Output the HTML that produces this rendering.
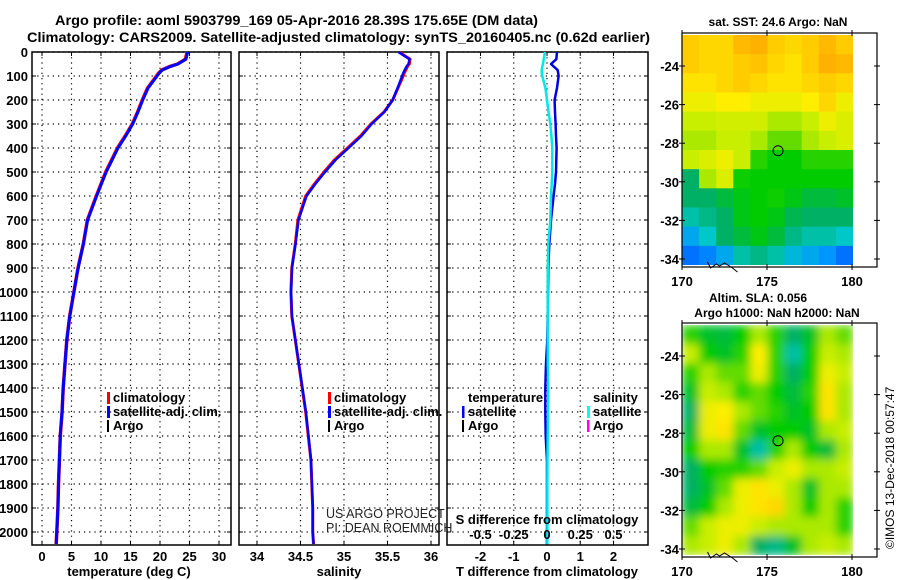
<!DOCTYPE html>
<html><head><meta charset="utf-8"><style>
body{margin:0;background:#fff}
svg{display:block;font-family:"Liberation Sans",sans-serif}
.b{font-weight:bold;font-size:13px}
</style></head><body>
<svg id="c" width="900" height="580" viewBox="0 0 900 580"></svg>
<script>
const depths=[0,30,50,60,75,90,100,150,200,250,300,350,400,450,500,550,600,700,800,900,1000,1100,1200,1300,1400,1500,1600,1700,1800,1900,2000,2050];
const tempClim=[24.6,24.3,23.0,21.7,20.3,19.7,19.4,17.9,17.0,16.2,15.3,14.1,12.8,11.8,10.8,10.0,9.2,7.7,7.0,6.1,5.4,4.7,4.2,3.9,3.6,3.4,3.1,2.95,2.8,2.7,2.5,2.4];
const tDiff=[0.3,0.28,0.12,0.2,0.32,0.34,0.35,0.3,0.23,0.24,0.26,0.27,0.29,0.28,0.27,0.24,0.2,0.12,0.07,0.04,0.03,0.02,0.01,-0.03,-0.05,-0.05,-0.04,0,0,0,0,0];
const salClim=[35.63,35.76,35.75,35.73,35.71,35.69,35.68,35.62,35.56,35.46,35.31,35.19,35.04,34.89,34.77,34.66,34.56,34.47,34.44,34.40,34.39,34.40,34.44,34.48,34.52,34.56,34.59,34.62,34.63,34.64,34.64,34.65];
const sDiff=[-0.015,-0.025,-0.03,-0.035,-0.04,-0.04,-0.035,-0.012,0,0.012,0.025,0.033,0.04,0.04,0.04,0.035,0.03,0.025,0.01,0.006,0.005,0.005,0.005,0.006,0.01,0.008,0.005,0.004,0.003,0.003,0.003,0.003];
const tTicks=[0,5,10,15,20,25,30];
const sTicks=[34,34.5,35,35.5,36];
const sTickLabels=["34","34.5","35","35.5","36"];
const dTicks=[0,100,200,300,400,500,600,700,800,900,1000,1100,1200,1300,1400,1500,1600,1700,1800,1900,2000];
const tdTicks=[-2,-1,0,1,2];
const sdTicks=[-0.5,-0.25,0,0.25,0.5];
const sdTickLabels=["-0.5","-0.25","0","0.25","0.5"];
const sstGrid=[
[0.74,0.72,0.72,0.76,0.77,0.74,0.72,0.74,0.76,0.74],
[0.74,0.72,0.72,0.74,0.75,0.72,0.70,0.74,0.77,0.76],
[0.70,0.70,0.72,0.74,0.72,0.70,0.70,0.72,0.74,0.72],
[0.66,0.66,0.68,0.68,0.66,0.66,0.66,0.68,0.72,0.66],
[0.62,0.62,0.63,0.63,0.63,0.60,0.60,0.62,0.66,0.64],
[0.60,0.60,0.62,0.62,0.60,0.55,0.55,0.60,0.62,0.64],
[0.62,0.64,0.66,0.62,0.50,0.47,0.47,0.50,0.50,0.50],
[0.42,0.60,0.64,0.48,0.47,0.47,0.47,0.47,0.47,0.47],
[0.42,0.42,0.44,0.46,0.47,0.48,0.46,0.44,0.44,0.45],
[0.38,0.40,0.42,0.46,0.47,0.46,0.43,0.42,0.42,0.42],
[0.32,0.36,0.42,0.44,0.46,0.44,0.40,0.38,0.38,0.36],
[0.26,0.28,0.32,0.38,0.40,0.38,0.34,0.32,0.30,0.26]];
const slaGrid=[
[0.50,0.45,0.44,0.47,0.60,0.50,0.42,0.45,0.60,0.55],
[0.62,0.47,0.45,0.50,0.68,0.50,0.38,0.47,0.62,0.60],
[0.50,0.60,0.55,0.55,0.66,0.50,0.42,0.47,0.66,0.62],
[0.45,0.62,0.60,0.50,0.55,0.47,0.44,0.50,0.70,0.60],
[0.42,0.66,0.68,0.60,0.55,0.50,0.45,0.47,0.70,0.60],
[0.44,0.66,0.70,0.55,0.45,0.47,0.47,0.45,0.60,0.62],
[0.47,0.60,0.60,0.45,0.38,0.50,0.60,0.47,0.44,0.60],
[0.42,0.47,0.50,0.50,0.55,0.62,0.66,0.60,0.60,0.62],
[0.42,0.45,0.55,0.66,0.70,0.66,0.60,0.45,0.60,0.60],
[0.44,0.47,0.60,0.66,0.70,0.72,0.60,0.47,0.60,0.50],
[0.55,0.62,0.66,0.66,0.62,0.60,0.60,0.60,0.60,0.50],
[0.60,0.62,0.66,0.60,0.42,0.40,0.45,0.60,0.62,0.60]];
const mapLatTicks=[-24,-26,-28,-30,-32,-34];
const mapLonTicks=[170,175,180];
const floatLon=175.65, floatLat=-28.39;

const NS="http://www.w3.org/2000/svg";
const svg=document.getElementById('c');
function el(t,a,p){const e=document.createElementNS(NS,t);for(const k in a)e.setAttribute(k,a[k]);(p||svg).appendChild(e);return e;}
function txt(s,a,p){const e=el('text',a,p);e.textContent=s;return e;}

const yTop=52,yBot=545;
const yD=d=>yTop+d*0.24;
const P1={x0:32,x1:231},P2={x0:239,x1:439},P3={x0:447,x1:648};
const xT=v=>42+v*5.9;
const xS=v=>257+(v-34)*87;
const xTD=v=>547+v*33.25;
const xSD=v=>547+v*4*33.25;

const t1=txt("Argo profile: aoml 5903799_169 05-Apr-2016 28.39S 175.65E (DM data)",{x:55,y:25,'font-size':14,'font-weight':'bold',textLength:483,lengthAdjust:'spacingAndGlyphs'});

const t2=txt("Climatology: CARS2009. Satellite-adjusted climatology: synTS_20160405.nc (0.62d earlier)",{x:27,y:42,'font-size':14,'font-weight':'bold',textLength:623,lengthAdjust:'spacingAndGlyphs'});


function panel(P,name,xticks,xf,labels){
  const g=el('g',{});
  
  
  dTicks.forEach(d=>{el('line',{x1:P.x0,x2:P.x1,y1:yD(d),y2:yD(d),stroke:'#000','stroke-width':1.2,'stroke-dasharray':'1.2 4'},g);
    el('line',{x1:P.x0,x2:P.x0+4,y1:yD(d),y2:yD(d),stroke:'#000'},g);el('line',{x1:P.x1-4,x2:P.x1,y1:yD(d),y2:yD(d),stroke:'#000'},g);});
  xticks.forEach((v,i)=>{const x=xf(v);
    el('line',{x1:x,x2:x,y1:yTop,y2:yBot,stroke:'#000','stroke-width':1.2,'stroke-dasharray':'1.2 4'},g);
    el('line',{x1:x,x2:x,y1:yBot-4,y2:yBot,stroke:'#000'},g);el('line',{x1:x,x2:x,y1:yTop,y2:yTop+4,stroke:'#000'},g);
    const lb=txt(labels?labels[i]:String(v),{x:x,y:561,'text-anchor':'middle',class:'b'},g);
    });
  el('rect',{x:P.x0,y:yTop,width:P.x1-P.x0,height:yBot-yTop,fill:'none',stroke:'#000','stroke-width':1.5},g);
  return g;
}
const g1=panel(P1,'temperature-panel',tTicks,xT);
const g2=panel(P2,'salinity-panel',sTicks,xS,sTickLabels);
const g3=panel(P3,'difference-panel',tdTicks,xTD);
dTicks.forEach(d=>{const lb=txt(String(d),{x:28,y:yD(d)+5,'text-anchor':'end',class:'b'});
  });
sdTicks.forEach((v,i)=>{const lb=txt(sdTickLabels[i],{x:xSD(v),y:539,'text-anchor':'middle',class:'b'});
  });
const sdt=txt("S difference from climatology",{x:547,y:524,'text-anchor':'middle',class:'b'});

[["temperature (deg C)",129,'temperature-axis-title'],["salinity",339,'salinity-axis-title'],["T difference from climatology",547,'t-diff-axis-title']].forEach(a=>{
  const lb=txt(a[0],{x:a[1],y:576,'text-anchor':'middle',class:'b'});
  });

function profile(vals,xf,color,w,g,name){
  const pts=vals.map((v,i)=>xf(v).toFixed(1)+','+yD(depths[i]).toFixed(1)).join(' ');
  const p=el('polyline',{points:pts,fill:'none',stroke:color,'stroke-width':w,'stroke-linejoin':'round'},g);
  
}
const tempSat=tempClim.map((v,i)=>v+tDiff[i]*0.3);
const salSat=salClim.map((v,i)=>v+sDiff[i]*0.3);
profile(tempClim,xT,'#f00',3.5,g1,'temperature-climatology-line');
profile(tempSat,xT,'#00f',3,g1,'temperature-satellite-line');
profile(salClim,xS,'#f00',3,g2,'salinity-climatology-line');
profile(salSat,xS,'#00f',2.5,g2,'salinity-satellite-line');
profile(tDiff,xTD,'#0000e0',2.5,g3,'t-difference-line');
profile(sDiff,xSD,'#00e8e8',2.5,g3,'s-difference-line');

function legend(x,y,items,name){
  const g=el('g',{});
  items.forEach((it,i)=>{const yy=y+i*14;
    if(it[1])el('rect',{x:x,y:yy-10,width:it[2]||2.5,height:12,fill:it[1]},g);
    txt(it[0],{x:x+6,y:yy,class:'b'},g);});
}
legend(107,402,[["climatology",'#f00',3],["satellite-adj. clim.",'#00f',3],["Argo",'#000',2]],'temperature-legend');
legend(328,402,[["climatology",'#f00',3],["satellite-adj. clim.",'#00f',3],["Argo",'#000',2]],'salinity-legend');
legend(462,402,[["temperature",null],["satellite",'#00f',2.5],["Argo",'#000',2]],'difference-temperature-legend');
legend(587,402,[["salinity",null],["satellite",'#00ffff',3],["Argo",'#ff00ff',2.5]],'difference-salinity-legend');
const cr=el('g',{});
txt("US ARGO PROJECT",{x:326,y:518,'font-size':12.5,fill:'#222'},cr);
txt("PI: DEAN ROEMMICH",{x:326,y:532,'font-size':12.5,fill:'#222'},cr);

const stops=[[0.2,[0,60,255]],[0.3,[0,150,255]],[0.36,[0,200,200]],[0.42,[0,176,100]],[0.47,[0,204,0]],[0.55,[100,220,0]],[0.62,[200,238,0]],[0.68,[255,238,0]],[0.74,[255,204,0]],[0.80,[255,150,0]]];
function cmap(v){if(v<=stops[0][0])return 'rgb('+stops[0][1]+')';
  for(let i=1;i<stops.length;i++){if(v<=stops[i][0]){const a=stops[i-1],b=stops[i],f=(v-a[0])/(b[0]-a[0]);
    return 'rgb('+a[1].map((c,k)=>Math.round(c+(b[1][k]-c)*f)).join(',')+')';}}
  return 'rgb('+stops[stops.length-1][1]+')';}

const defs=el('defs',{});
const flt=el('filter',{id:'bl',x:0,y:0,width:1,height:1},defs);el('feGaussianBlur',{stdDeviation:4.5,edgeMode:'duplicate'},flt);

function map(top,grid,name,blur,titles){
  const fx0=682,fx1=877,fy0=top,fy1=top+234;
  const lonX=l=>682+(l-170)*17;
  const latY=l=>top+33+(-24-l)*19.3;
  const g=el('g',{});
  const cp=el('clipPath',{id:'cp'+top},defs);el('rect',{x:682,y:top+2,width:171,height:230},cp);
  const ig=el('g',{'clip-path':'url(#cp'+top+')'},g);
  const ig2=el('g',blur?{filter:'url(#bl)'}:{},ig);
  const rows=grid.length,cols=grid[0].length,cw=171/cols,rh=230/rows;
  grid.forEach((r,i)=>r.forEach((v,j)=>{el('rect',{x:682+j*cw,y:top+2+i*rh,width:cw+0.5,height:rh+0.5,fill:cmap(v)},ig2);}));
  el('path',{d:`M${lonX(171.5)} ${top+229} l3 6 l6 -4 l3 2 l5 -3 l8 5 l5 4`,fill:'none',stroke:'#000','stroke-width':1},g);
  el('rect',{x:fx0,y:fy0,width:fx1-fx0,height:fy1-fy0,fill:'none',stroke:'#000','stroke-width':1.2},g);
  mapLatTicks.forEach(l=>{const y=latY(l);
    el('line',{x1:fx0-3,x2:fx0+3,y1:y,y2:y,stroke:'#000'},g);el('line',{x1:fx1-3,x2:fx1+3,y1:y,y2:y,stroke:'#000'},g);
    const lb=txt(String(l),{x:679,y:y+5,'text-anchor':'end',class:'b'},g);});
  mapLonTicks.forEach(l=>{const x=lonX(l);
    el('line',{x1:x,x2:x,y1:fy1-3,y2:fy1+3,stroke:'#000'},g);el('line',{x1:x,x2:x,y1:fy0-3,y2:fy0+3,stroke:'#000'},g);
    const lb=txt(String(l),{x:x,y:fy1+19,'text-anchor':'middle',class:'b'},g);});
  const c=el('circle',{cx:lonX(floatLon),cy:latY(floatLat),r:5,fill:'none',stroke:'#000','stroke-width':1},g);
  
  titles.forEach(t=>{const lb=txt(t[0],{x:t[1],y:t[2],'text-anchor':'middle','font-size':12,'font-weight':'bold'},g);
    });
}
map(33,sstGrid,'sst-map',false,[["sat. SST: 24.6 Argo: NaN",778,26]]);
map(323,slaGrid,'sla-map',true,[["Altim. SLA: 0.056",758,302],["Argo h1000: NaN h2000: NaN",777,317]]);
const im=txt("©IMOS 13-Dec-2018 00:57:47",{x:0,y:0,'font-size':12,transform:'translate(894,549) rotate(-90)'});

</script>
</body></html>
